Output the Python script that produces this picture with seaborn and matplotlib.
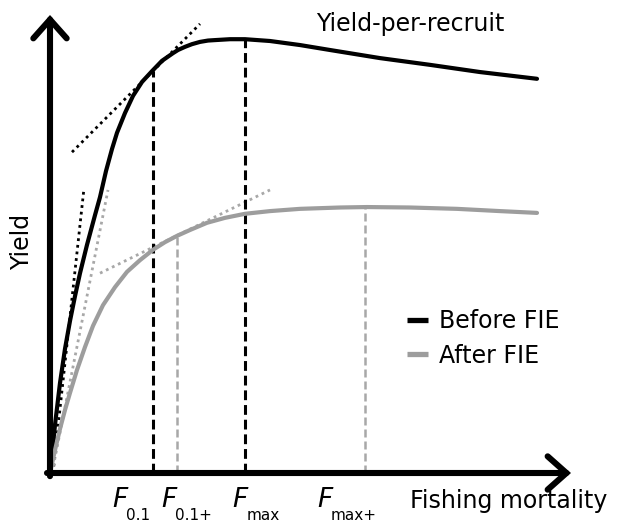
import numpy as np
import pandas as pd
import matplotlib
matplotlib.use("Agg")
import matplotlib.pyplot as plt
import seaborn as sns
from matplotlib.lines import Line2D

# ---------------- data (arbitrary units) ----------------
f_before = [0, 0.1, 0.2, 0.3, 0.4, 0.5, 0.6, 0.74, 0.9, 1.0, 1.12, 1.24, 1.34, 1.5,
            1.66, 1.84, 2.04, 2.24, 2.46, 2.56, 2.7, 2.84, 3.0, 3.16, 3.3, 3.6,
            3.9, 4.4, 5.0, 5.6, 6.6, 7.6, 8.6, 9.74]
y_before = [0, 1.07, 2.0, 2.76, 3.38, 3.93, 4.44, 5.07, 5.73, 6.13, 6.71, 7.2, 7.56,
            8.0, 8.38, 8.69, 8.93, 9.16, 9.33, 9.4, 9.47, 9.53, 9.58, 9.61, 9.62,
            9.64, 9.64, 9.6, 9.51, 9.4, 9.22, 9.07, 8.91, 8.76]
f_after = [0, 0.1, 0.2, 0.3, 0.4, 0.54, 0.7, 0.86, 1.06, 1.3, 1.54, 1.8, 2.06, 2.3,
           2.54, 2.8, 3.14, 3.5, 3.9, 4.4, 5.0, 5.8, 6.34, 7.2, 8.14, 9.0, 9.74]
y_after = [0, 0.51, 0.98, 1.4, 1.78, 2.29, 2.8, 3.27, 3.73, 4.13, 4.47, 4.73, 4.96,
           5.13, 5.27, 5.4, 5.56, 5.67, 5.76, 5.82, 5.87, 5.9, 5.91, 5.9, 5.87,
           5.82, 5.78]

series = ["Before FIE", "After FIE"]
ref_sub = ["0.1", "0.1+", "max", "max+"]
ref_f = [2.06, 2.54, 3.9, 6.3]
ref_yield = [8.93, 5.27, 9.64, 5.91]
ref_series = ["Before FIE", "After FIE", "Before FIE", "After FIE"]

# tangent segments (F start, F end, Yield start, Yield end)
tan_series = ["Before FIE", "Before FIE", "After FIE", "After FIE"]
tan_f0 = [0.06, 0.44, 0.04, 1.0]
tan_f1 = [0.68, 3.0, 1.16, 4.4]
tan_y0 = [0.0, 7.13, 0.0, 4.44]
tan_y1 = [6.33, 9.98, 6.29, 6.29]

x_label = "Fishing mortality"
y_label = "Yield"
title = "Yield-per-recruit"

# ---------------- style ----------------
sns.set_theme(style="white")
plt.rcParams["font.family"] = ["DejaVu Sans"]
plt.rcParams["text.color"] = "black"
W, H = 621, 524
fig = plt.figure(figsize=(W / 100, H / 100), dpi=100)
fig.patch.set_facecolor("white")

# axes region: origin at pixel (50,473), x tip 571, y tip 15
ox, oy, xt, yt = 50, 473, 571, 15
ax = fig.add_axes([ox / W, (H - oy) / H, (xt - ox) / W, (oy - yt) / H])
ax.set_xlim(0, (xt - ox) / 50)
ax.set_ylim(0, (oy - yt) / 45)
ax.set_axis_off()

col = {"Before FIE": "#000000", "After FIE": "#9d9d9d"}
dash_col = {"Before FIE": "#000000", "After FIE": "#a8a8a8"}

df = pd.concat([
    pd.DataFrame({"F": f_before, "Y": y_before, "s": "Before FIE"}),
    pd.DataFrame({"F": f_after, "Y": y_after, "s": "After FIE"}),
])

# tangents
for s, a0, a1, b0, b1 in zip(tan_series, tan_f0, tan_f1, tan_y0, tan_y1):
    sns.lineplot(x=[a0, a1], y=[b0, b1], ax=ax, color=dash_col[s], lw=2.0,
                 linestyle=(0, (1.0, 1.4)), sort=False, estimator=None,
                 clip_on=False, legend=False)

# reference verticals
for f, y, s in zip(ref_f, ref_yield, ref_series):
    lw = 2.2 if s == "Before FIE" else 1.8
    sns.lineplot(x=[f, f], y=[0, y], ax=ax, color=dash_col[s], lw=lw,
                 linestyle=(0, (3.2, 1.6)), sort=False, estimator=None,
                 legend=False)

# curves
for s in series:
    d = df[df["s"] == s]
    sns.lineplot(data=d, x="F", y="Y", ax=ax, color=col[s], lw=3.0,
                 sort=False, estimator=None, legend=False, clip_on=False)

# axes with arrows
ap = dict(arrowstyle="->,head_length=13.5,head_width=12.0", lw=4.4,
          color="black", shrinkA=0, shrinkB=0, mutation_scale=1,
          joinstyle="miter")
ax.annotate("", xy=(ax.get_xlim()[1], 0), xytext=(-0.06, 0),
            arrowprops=ap, annotation_clip=False)
ax.annotate("", xy=(0, ax.get_ylim()[1]), xytext=(0, -0.07),
            arrowprops=ap, annotation_clip=False)


def px(x, y):
    return x / W, 1 - y / H


fs = 17
fig.text(*px(410, 508), x_label, fontsize=fs, ha="left", va="baseline")
fig.text(*px(410, 31), title, fontsize=fs, ha="center", va="baseline")
fig.text(*px(22, 242), y_label, fontsize=fs, ha="center", va="center",
         rotation=90)

# F labels
label_left = [112, 161, 232, 317]
fig.canvas.draw()
r = fig.canvas.get_renderer()
for lx, sub in zip(label_left, ref_sub):
    t = fig.text(*px(lx, 507), "F", fontsize=19, style="italic",
                 ha="left", va="baseline")
    bb = t.get_window_extent(r)
    fig.text(bb.x1 / W - 1 / W, 1 - 520 / H, sub, fontsize=11,
             ha="left", va="baseline")

# legend
handles = [Line2D([], [], color=col[s], lw=3.8, solid_capstyle="butt")
           for s in series]
leg = fig.legend(handles, series, loc="upper left",
                 bbox_to_anchor=px(407, 309), frameon=False, fontsize=fs,
                 handlelength=0.9, handletextpad=0.45, labelspacing=0.45,
                 borderpad=0, borderaxespad=0)

fig.savefig("out.png", dpi=100, facecolor="white")
